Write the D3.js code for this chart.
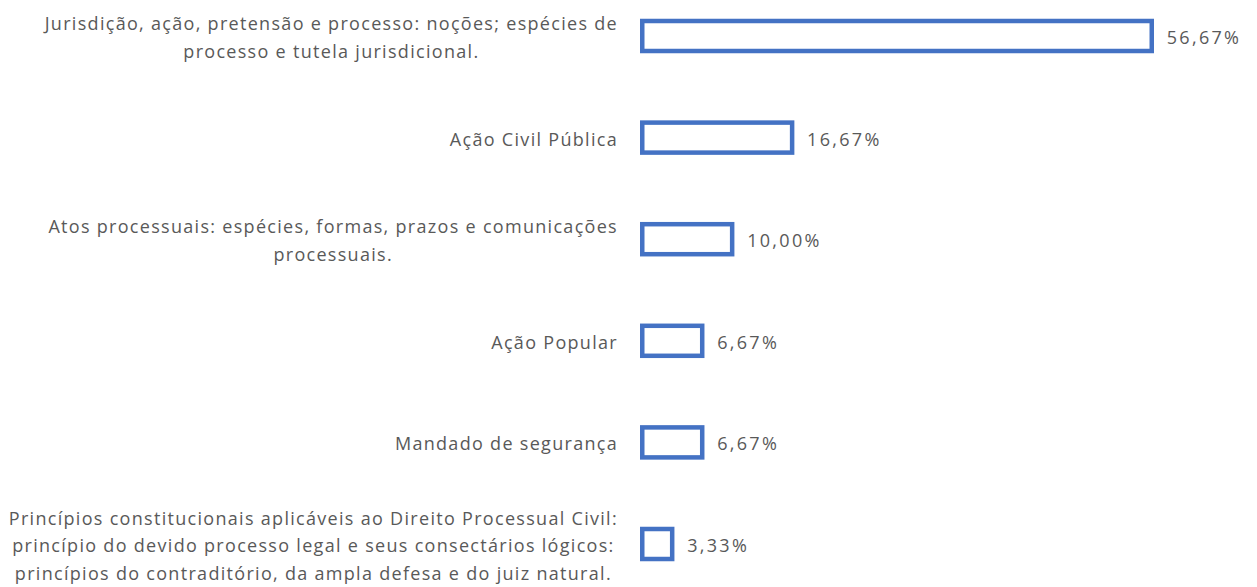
<!DOCTYPE html>
<html>
<head>
<meta charset="utf-8">
<script src="https://cdn.jsdelivr.net/npm/d3@7"></script>
<style>
  html, body { margin: 0; padding: 0; background: #fff; }
  svg { display: block; }
  text { font-family: "Open Sans", sans-serif; fill: #595959; }
</style>
</head>
<body>
<svg id="chart" width="1257" height="587"></svg>
<script>
const categories = [
  ["Jurisdição, ação, pretensão e processo: noções; espécies de", "processo e tutela jurisdicional."],
  ["Ação Civil Pública"],
  ["Atos processuais: espécies, formas, prazos e comunicações", "processuais."],
  ["Ação Popular"],
  ["Mandado de segurança"],
  ["Princípios constitucionais aplicáveis ao Direito Processual Civil:", "princípio do devido processo legal e seus consectários lógicos:", "princípios do contraditório, da ampla defesa e do juiz natural."]
];
const values = [56.67, 16.67, 10.00, 6.67, 6.67, 3.33];
const valueLabels = ["56,67%", "16,67%", "10,00%", "6,67%", "6,67%", "3,33%"];

const svg = d3.select("#chart");
const idx = d3.range(categories.length);

const x = d3.scaleLinear().domain([0, 56.67]).range([642.25, 1151.75]);
const y = d3.scalePoint().domain(idx).range([36, 544]);
const barH = 30;
const fontSize = 18;
const lineH = 27.5;

// bars
svg.append("g").selectAll("rect").data(idx).join("rect")
  .attr("x", x(0))
  .attr("y", i => y(i) - barH / 2)
  .attr("width", i => x(values[i]) - x(0))
  .attr("height", barH)
  .attr("fill", "#ffffff")
  .attr("stroke", "#4472C4")
  .attr("stroke-width", 4.5);

// value labels
svg.append("g").selectAll("text").data(idx).join("text")
  .attr("x", i => x(values[i]) + 15)
  .attr("y", i => y(i) + 1)
  .attr("dominant-baseline", "central")
  .style("font-size", fontSize + "px")
  .style("letter-spacing", "2.3px")
  .text(i => valueLabels[i]);

// category labels: block right-aligned, lines centered within block
const labelRight = 618;
const lg = svg.append("g");
idx.forEach(i => {
  const lines = categories[i];
  const g = lg.append("g");
  const texts = lines.map((ln, k) => g.append("text")
    .attr("y", y(i) + (k - (lines.length - 1) / 2) * lineH + 1)
    .attr("dominant-baseline", "central")
    .attr("text-anchor", "middle")
    .style("font-size", fontSize + "px")
    .style("letter-spacing", "1.3px")
    .text(ln));
  const widths = texts.map(t => t.node().getComputedTextLength());
  const maxW = d3.max(widths);
  texts.forEach(t => t.attr("x", labelRight - maxW / 2));
});
</script>
</body>
</html>
